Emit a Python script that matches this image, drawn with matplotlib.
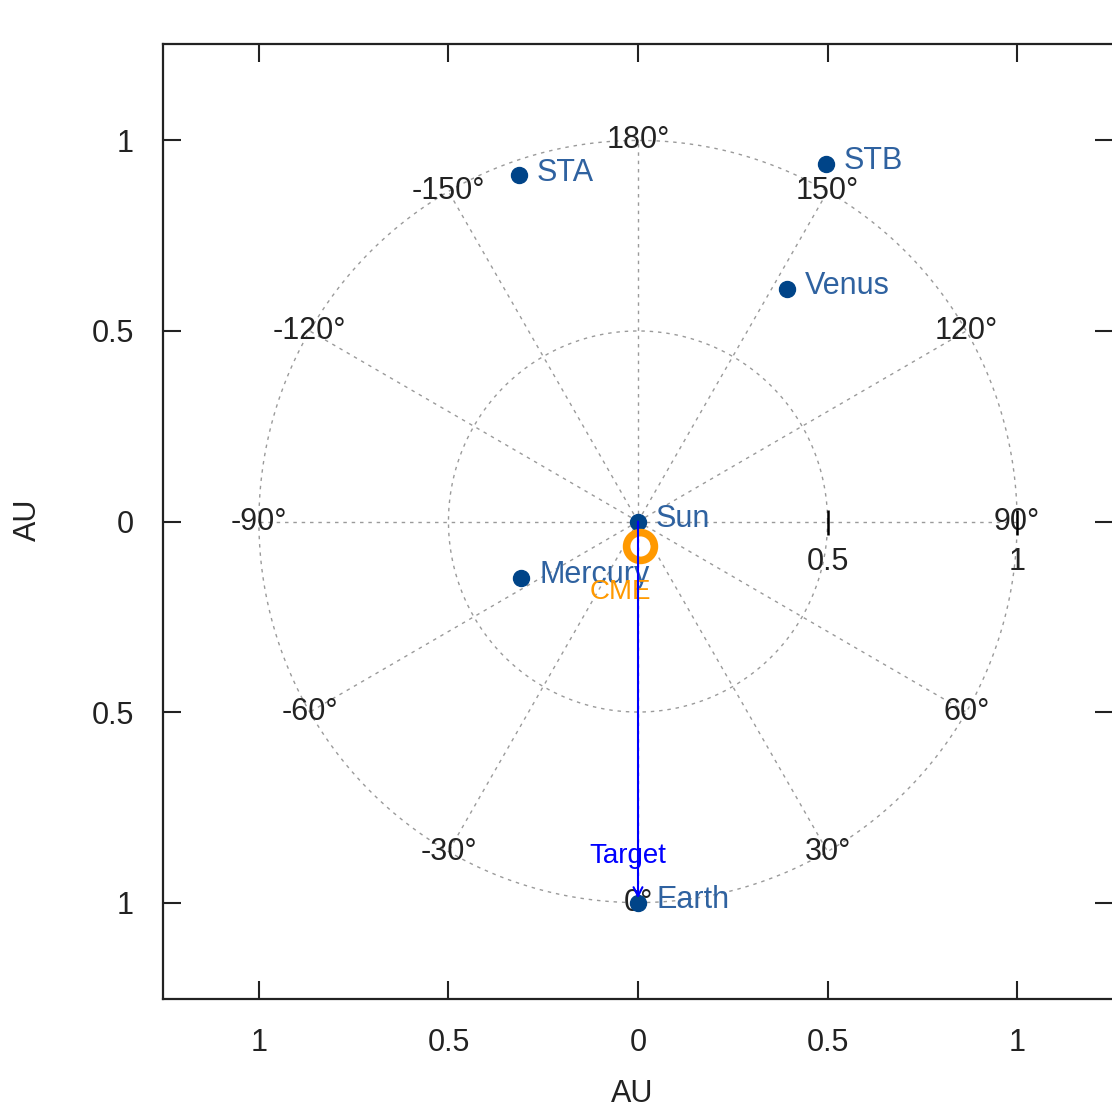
import numpy as np
import matplotlib
matplotlib.use("Agg")
import matplotlib.pyplot as plt
from matplotlib.ticker import FuncFormatter

plt.rcParams['font.family'] = ['Liberation Sans', 'DejaVu Sans']

# ---- data ----
bodies = ["Sun", "Mercury", "Venus", "STA", "STB", "Earth"]
body_x = [0.0, -0.308, 0.393, -0.314, 0.496, 0.0]
body_y = [0.0, -0.147, 0.611, 0.908, 0.939, -1.0]
cme_x, cme_y = 0.005, -0.063
target_x, target_y = 0.0, -1.0
grid_radii = [0.5, 1.0]
grid_angles = list(range(-150, 181, 30))  # degrees, 0 = towards Earth (-y)
radial_ticks = [0.5, 1.0]
axis_ticks = [-1, -0.5, 0, 0.5, 1]

W, H = 1112, 1109
fig = plt.figure(figsize=(W / 100, H / 100), dpi=100)
ax = fig.add_axes([163 / W, (H - 999) / H, 950 / W, 955 / H])
ax.set_xlim(-1.253, 1.253)
ax.set_ylim(-1.253, 1.253)

FS = 22
grid_kw = dict(color='#9a9a9a', lw=1.0, ls=(0, (2.5, 3.5)), zorder=1)

# grid circles
t = np.linspace(0, 2 * np.pi, 361)
for r in grid_radii:
    ax.plot(r * np.cos(t), r * np.sin(t), **grid_kw)

# radial lines and angle labels
for a in grid_angles:
    th = np.deg2rad(a)
    ax.plot([0, np.sin(th)], [0, -np.cos(th)], **grid_kw)
    ax.text(np.sin(th), -np.cos(th), f"{a}°", ha='center', va='center',
            fontsize=FS, color='#222222', zorder=2)

# radial scale
for r in radial_ticks:
    ax.plot([r], [0], marker='|', color='black', ms=18, mew=1.8, zorder=2)
    ax.text(r, -0.105, f"{r:g}", ha='center', va='center', fontsize=FS,
            color='#222222', zorder=2)

# CME -> target arrow
ax.annotate('', xy=(target_x, target_y), xytext=(0, 0),
            arrowprops=dict(arrowstyle='->', color='#0000ff', lw=1.5,
                            mutation_scale=16, shrinkA=0, shrinkB=3), zorder=8)
ax.text(-0.026, -0.879, "Target", ha='center', va='center', fontsize=FS - 2,
        color='#0000ff', zorder=5)

# bodies
ax.plot(body_x, body_y, ls='none', marker='o', ms=11.5, color='#004488', zorder=6)
for name, x, y in zip(bodies, body_x, body_y):
    ax.annotate(name, (x, y), xytext=(13, 2), textcoords='offset points',
                ha='left', va='center', fontsize=FS, color='#2f62a0', zorder=6)

# CME
ax.plot([cme_x], [cme_y], ls='none', marker='o', ms=20, mfc='none',
        mec='#ff9900', mew=5.5, zorder=7)
ax.text(-0.0475, -0.186, "CME", ha='center', va='center', fontsize=FS - 2,
        color='#ff9900', zorder=7)

# axes styling
ax.set_xticks(axis_ticks)
ax.set_yticks(axis_ticks)
fmt = FuncFormatter(lambda v, p: f"{abs(v):g}")
ax.xaxis.set_major_formatter(fmt)
ax.yaxis.set_major_formatter(fmt)
ax.tick_params(direction='in', length=13, width=1.5, labelsize=FS, pad=21,
               top=True, right=True, colors='#222222')
for s in ax.spines.values():
    s.set_linewidth(1.6)
    s.set_color('#222222')

ax.set_xlabel('AU', fontsize=FS, va='center', color='#222222')
ax.xaxis.set_label_coords(0.494, -0.0995)
ax.set_ylabel('AU', fontsize=FS, va='center', color='#222222')
ax.yaxis.set_label_coords(-0.142, 0.5016)

fig.savefig('out.png', dpi=100)
